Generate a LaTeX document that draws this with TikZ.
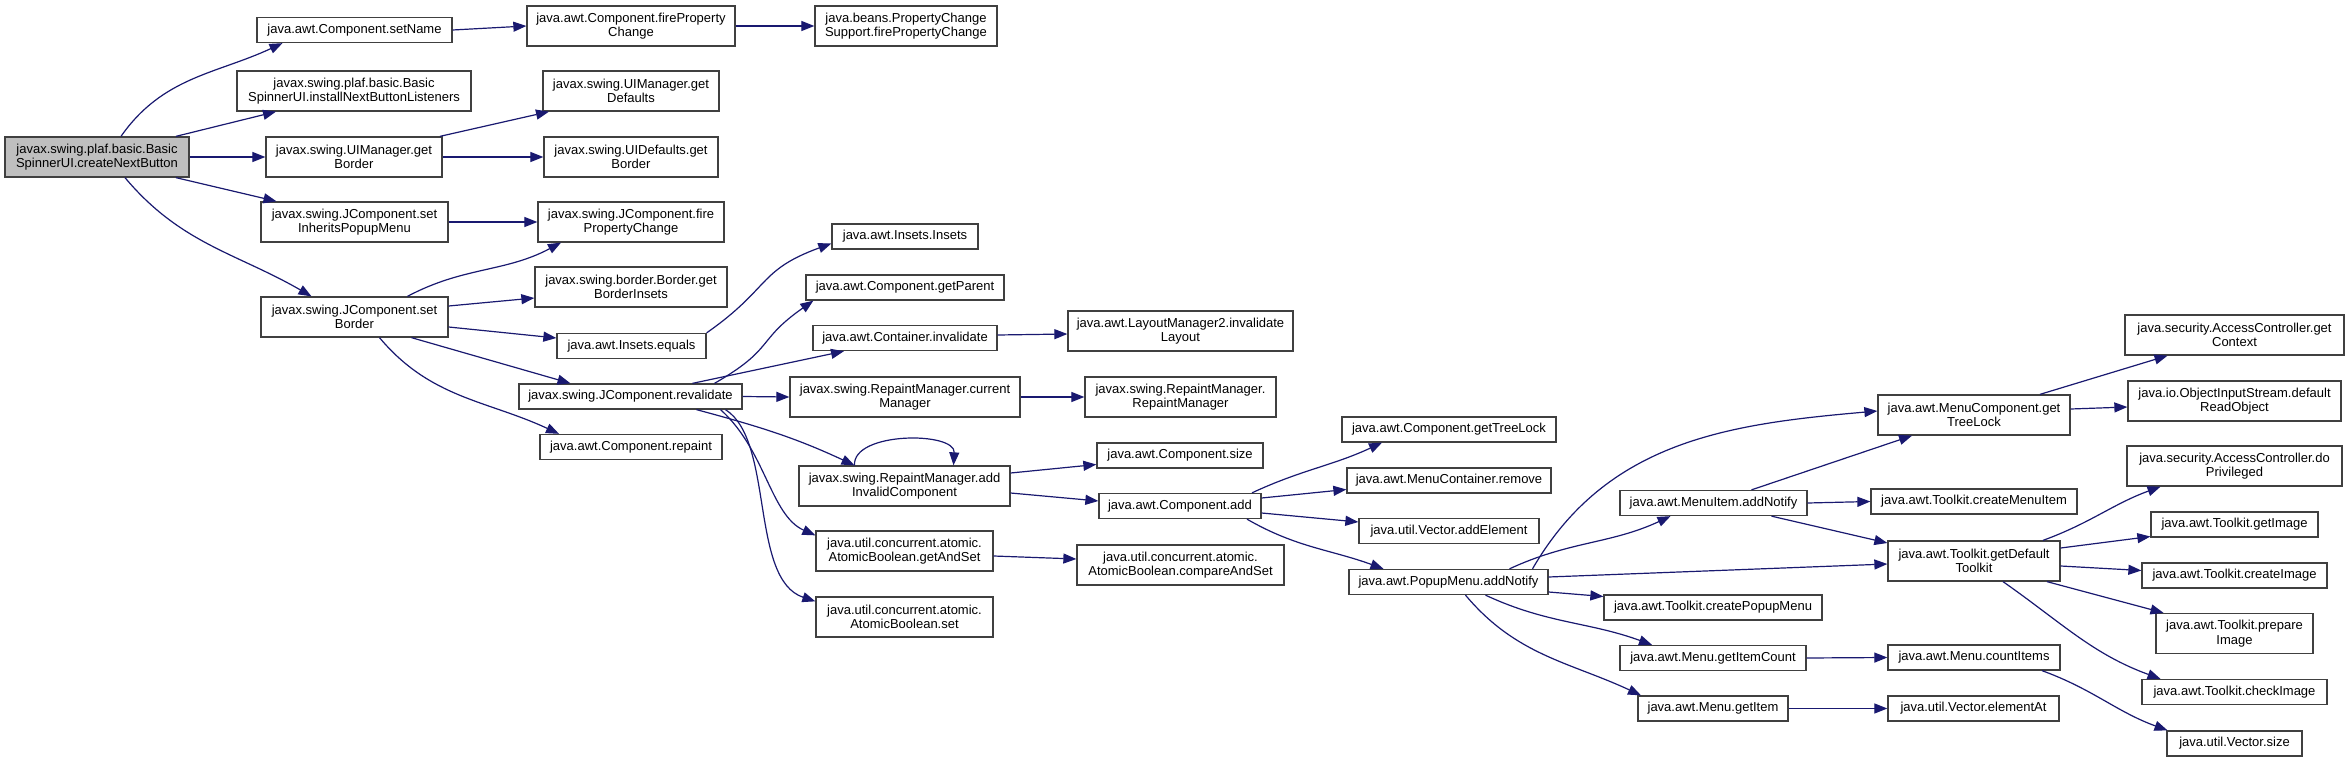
\documentclass[tikz,border=0pt]{standalone}
\usepackage{fontspec}
\setmainfont{Liberation Sans}
\usetikzlibrary{arrows.meta}
\definecolor{edgeblue}{HTML}{191970}
\definecolor{boxline}{HTML}{404040}
\definecolor{rootfill}{HTML}{BFBFBF}
\begin{document}
\begin{tikzpicture}[x=1pt,y=1pt,
  fn/.style={draw=boxline, line width=1.3pt, fill=white, rectangle, inner sep=0pt, align=center, font=\fontsize{13}{14.5}\selectfont},
  one/.style={minimum height=25},
  two/.style={minimum height=40},
  calledge/.style={draw=edgeblue, line width=1.2pt, -{Triangle[length=13pt,width=10pt]}},
]
\useasboundingbox (0,0) rectangle (2349,-762);
\fill[white] (0,0) rectangle (2349,-762);

% column 1
\node[fn, two, fill=rootfill, minimum width=184] (root) at (97,-157) {javax.swing.plaf.basic.Basic\\SpinnerUI.createNextButton};
% column 2
\node[fn, one, minimum width=195] (setName) at (354.5,-30) {java.awt.Component.setName};
\node[fn, two, minimum width=234] (install) at (354,-91) {javax.swing.plaf.basic.Basic\\SpinnerUI.installNextButtonListeners};
\node[fn, two, minimum width=176] (uimGetBorder) at (354,-157) {javax.swing.UIManager.get\\Border};
\node[fn, two, minimum width=187] (setInherits) at (354.5,-222) {javax.swing.JComponent.set\\InheritsPopupMenu};
\node[fn, two, minimum width=187] (setBorder) at (354.5,-317) {javax.swing.JComponent.set\\Border};
% column 3
\node[fn, two, minimum width=208] (awtFire) at (631,-26) {java.awt.Component.fireProperty\\Change};
\node[fn, two, minimum width=176] (getDefaults) at (631,-91) {javax.swing.UIManager.get\\Defaults};
\node[fn, two, minimum width=174] (uidGetBorder) at (631,-157) {javax.swing.UIDefaults.get\\Border};
\node[fn, two, minimum width=186] (jcFire) at (631,-222) {javax.swing.JComponent.fire\\PropertyChange};
\node[fn, two, minimum width=192] (getBorderInsets) at (631,-287) {javax.swing.border.Border.get\\BorderInsets};
\node[fn, one, minimum width=149] (insetsEquals) at (631.5,-346) {java.awt.Insets.equals};
\node[fn, one, minimum width=223] (revalidate) at (630.5,-396.5) {javax.swing.JComponent.revalidate};
\node[fn, one, minimum width=182] (repaint) at (631,-447) {java.awt.Component.repaint};
% column 4
\node[fn, two, minimum width=182] (pcs) at (906,-26) {java.beans.PropertyChange\\Support.firePropertyChange};
\node[fn, one, minimum width=146] (insetsInsets) at (905,-236.5) {java.awt.Insets.Insets};
\node[fn, one, minimum width=198] (getParent) at (905,-287.5) {java.awt.Component.getParent};
\node[fn, one, minimum width=184] (containerInvalidate) at (905,-338) {java.awt.Container.invalidate};
\node[fn, two, minimum width=230] (currentManager) at (905,-397) {javax.swing.RepaintManager.current\\Manager};
\node[fn, two, minimum width=211] (addInvalid) at (904.5,-486) {javax.swing.RepaintManager.add\\InvalidComponent};
\node[fn, two, minimum width=177] (getAndSet) at (904.5,-551) {java.util.concurrent.atomic.\\AtomicBoolean.getAndSet};
\node[fn, two, minimum width=177] (abSet) at (904.5,-617) {java.util.concurrent.atomic.\\AtomicBoolean.set};
% column 5
\node[fn, two, minimum width=225] (layoutMgr) at (1180.5,-331) {java.awt.LayoutManager2.invalidate\\Layout};
\node[fn, two, minimum width=191] (rmRm) at (1180.5,-397) {javax.swing.RepaintManager.\\RepaintManager};
\node[fn, one, minimum width=166] (compSize) at (1180,-455.5) {java.awt.Component.size};
\node[fn, one, minimum width=162] (compAdd) at (1180,-506) {java.awt.Component.add};
\node[fn, two, minimum width=207] (compareAndSet) at (1180.5,-565) {java.util.concurrent.atomic.\\AtomicBoolean.compareAndSet};
% column 6
\node[fn, one, minimum width=214] (getTreeLock) at (1449,-429.5) {java.awt.Component.getTreeLock};
\node[fn, one, minimum width=204] (mcRemove) at (1449,-480.5) {java.awt.MenuContainer.remove};
\node[fn, one, minimum width=180] (addElement) at (1449,-531) {java.util.Vector.addElement};
\node[fn, one, minimum width=199] (popupAddNotify) at (1448.5,-582) {java.awt.PopupMenu.addNotify};
% column 7
\node[fn, one, minimum width=187] (menuItemAddNotify) at (1713.5,-503) {java.awt.MenuItem.addNotify};
\node[fn, one, minimum width=218] (createPopupMenu) at (1713,-607.5) {java.awt.Toolkit.createPopupMenu};
\node[fn, one, minimum width=186] (getItemCount) at (1713,-658) {java.awt.Menu.getItemCount};
\node[fn, one, minimum width=150] (getItem) at (1713,-708.5) {java.awt.Menu.getItem};
% column 8
\node[fn, two, minimum width=192] (mcGetTreeLock) at (1974,-415) {java.awt.MenuComponent.get\\TreeLock};
\node[fn, one, minimum width=206] (createMenuItem) at (1974,-501.5) {java.awt.Toolkit.createMenuItem};
\node[fn, two, minimum width=172] (getDefaultToolkit) at (1974,-561) {java.awt.Toolkit.getDefault\\Toolkit};
\node[fn, one, minimum width=172] (countItems) at (1974,-657.5) {java.awt.Menu.countItems};
\node[fn, one, minimum width=171] (elementAt) at (1973.5,-708.5) {java.util.Vector.elementAt};
% column 9
\node[fn, two, minimum width=219] (getContext) at (2234.5,-335) {java.security.AccessController.get\\Context};
\node[fn, two, minimum width=213] (readObject) at (2234.5,-401) {java.io.ObjectInputStream.default\\ReadObject};
\node[fn, two, minimum width=215] (doPrivileged) at (2234.5,-466) {java.security.AccessController.do\\Privileged};
\node[fn, one, minimum width=167] (getImage) at (2234.5,-524.5) {java.awt.Toolkit.getImage};
\node[fn, one, minimum width=185] (createImage) at (2234.5,-575.5) {java.awt.Toolkit.createImage};
\node[fn, two, minimum width=157] (prepareImage) at (2234.5,-633.5) {java.awt.Toolkit.prepare\\Image};
\node[fn, one, minimum width=185] (checkImage) at (2234.5,-692) {java.awt.Toolkit.checkImage};
\node[fn, one, minimum width=135] (vectorSize) at (2234.5,-743.5) {java.util.Vector.size};

% edges from root
\draw[calledge] ([xshift=24]root.north) to[out=55,in=205] ([xshift=-72]setName.south);
\draw[calledge] ([xshift=79]root.north) -- ([xshift=-78]install.south);
\draw[calledge] (root.east) -- (uimGetBorder.west);
\draw[calledge] ([xshift=79]root.south) -- ([xshift=-78]setInherits.north);
\draw[calledge] ([xshift=28]root.south) to[out=-50,in=150] ([xshift=-43]setBorder.north);
% column 2 -> 3
\draw[calledge] (setName.east) -- (awtFire.west);
\draw[calledge] (awtFire.east) -- (pcs.west);
\draw[calledge] ([xshift=86]uimGetBorder.north) -- ([xshift=-82]getDefaults.south);
\draw[calledge] (uimGetBorder.east) -- (uidGetBorder.west);
\draw[calledge] (setInherits.east) -- (jcFire.west);
\draw[calledge] ([xshift=53]setBorder.north) to[out=28,in=208] ([xshift=-70]jcFire.south);
\draw[calledge] ([yshift=11]setBorder.east) -- ([yshift=-11]getBorderInsets.west);
\draw[calledge] ([yshift=-10]setBorder.east) -- ([yshift=8]insetsEquals.west);
\draw[calledge] ([xshift=57]setBorder.south) -- ([xshift=-60]revalidate.north);
\draw[calledge] ([xshift=25]setBorder.south) to[out=-50,in=155] ([xshift=-72]repaint.north);
% column 3 -> 4
\draw[calledge] (insetsEquals.north east) to[out=35,in=200,looseness=1.3] ([yshift=-7]insetsInsets.west);
\draw[calledge] ([xshift=84]revalidate.north) to[out=30,in=215,looseness=1.4] ([xshift=8]getParent.south west);
\draw[calledge] ([xshift=62]revalidate.north) -- ([xshift=-61]containerInvalidate.south);
\draw[calledge] (revalidate.east) -- (currentManager.west);
\draw[calledge] ([xshift=66]revalidate.south) to[out=-15,in=155] ([xshift=-50]addInvalid.north);
\draw[calledge] ([xshift=90]revalidate.south) .. controls +(45,-40) and +(-45,20) .. ([yshift=-5]getAndSet.north west);
\draw[calledge] ([xshift=95]revalidate.south) .. controls +(49,-31) and +(-66,22) .. ([yshift=-5]abSet.north west);
% column 4 -> 5
\draw[calledge] ([yshift=3]containerInvalidate.east) -- ([yshift=-3]layoutMgr.west);
\draw[calledge] (currentManager.east) -- (rmRm.west);
\draw[calledge] ([xshift=-50]addInvalid.north) .. controls +(-2,34) and +(2,34) .. ([xshift=49]addInvalid.north);
\draw[calledge] ([yshift=13]addInvalid.east) -- ([yshift=-9]compSize.west);
\draw[calledge] ([yshift=-7]addInvalid.east) -- ([yshift=5]compAdd.west);
\draw[calledge] ([yshift=-5]getAndSet.east) -- ([yshift=6]compareAndSet.west);
% column 5 -> 6
\draw[calledge] ([xshift=72]compAdd.north) to[out=25,in=205] ([xshift=-67]getTreeLock.south);
\draw[calledge] ([yshift=8]compAdd.east) -- ([yshift=-9]mcRemove.west);
\draw[calledge] ([yshift=-7]compAdd.east) -- ([yshift=9]addElement.west);
\draw[calledge] ([xshift=67]compAdd.south) to[out=-30,in=160] ([xshift=-65]popupAddNotify.north);
% column 6 -> 7/8
\draw[calledge] ([xshift=84]popupAddNotify.north) to[out=60,in=185] ([yshift=4]mcGetTreeLock.west);
\draw[calledge] ([xshift=61]popupAddNotify.north) to[out=25,in=205] ([xshift=-43]menuItemAddNotify.south);
\draw[calledge] ([yshift=5]popupAddNotify.east) -- ([yshift=-3]getDefaultToolkit.west);
\draw[calledge] ([yshift=-10]popupAddNotify.east) -- ([yshift=11]createPopupMenu.west);
\draw[calledge] ([xshift=37]popupAddNotify.south) to[out=-25,in=160] ([xshift=-61]getItemCount.north);
\draw[calledge] ([xshift=17]popupAddNotify.south) to[out=-50,in=155] ([xshift=-72]getItem.north);
% column 7 -> 8
\draw[calledge] ([xshift=38]menuItemAddNotify.north) -- ([xshift=-62]mcGetTreeLock.south);
\draw[calledge] (menuItemAddNotify.east) -- (createMenuItem.west);
\draw[calledge] ([xshift=58]menuItemAddNotify.south) -- ([yshift=18]getDefaultToolkit.west);
\draw[calledge] (getItemCount.east) -- (countItems.west);
\draw[calledge] (getItem.east) -- (elementAt.west);
% column 8 -> 9
\draw[calledge] ([xshift=66]mcGetTreeLock.north) -- ([xshift=-67]getContext.south);
\draw[calledge] ([yshift=6]mcGetTreeLock.east) -- ([yshift=-6]readObject.west);
\draw[calledge] ([xshift=69]getDefaultToolkit.north) to[out=20,in=200] ([xshift=-74]doPrivileged.south);
\draw[calledge] ([yshift=13]getDefaultToolkit.east) -- ([yshift=-12]getImage.west);
\draw[calledge] ([yshift=-5]getDefaultToolkit.east) -- ([yshift=5]createImage.west);
\draw[calledge] ([xshift=73]getDefaultToolkit.south) -- ([xshift=-71]prepareImage.north);
\draw[calledge] ([xshift=29]getDefaultToolkit.south) to[out=-35,in=160] ([xshift=-74]checkImage.north);
\draw[calledge] ([xshift=68]countItems.south) to[out=-20,in=160] ([xshift=-67]vectorSize.north);
\end{tikzpicture}
\end{document}
